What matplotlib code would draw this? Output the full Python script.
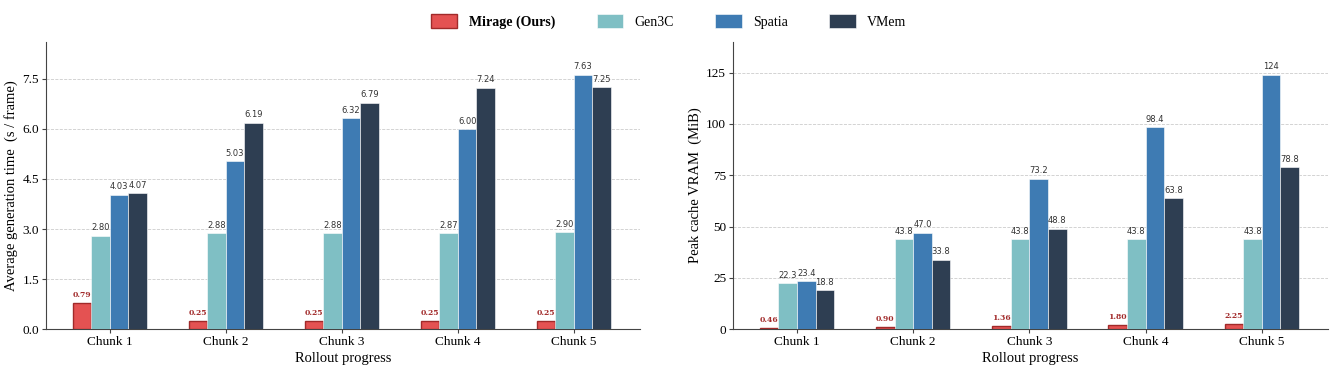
import matplotlib.pyplot as plt
import numpy as np

chunks = ["Chunk 1", "Chunk 2", "Chunk 3", "Chunk 4", "Chunk 5"]
methods = ["Mirage (Ours)", "Gen3C", "Spatia", "VMem"]
colors = ["#e45252", "#7fbfc4", "#3e7bb3", "#2e3e52"]

# average generation time (s / frame)
time_mirage = [0.79, 0.25, 0.25, 0.25, 0.25]
time_gen3c = [2.80, 2.88, 2.88, 2.87, 2.90]
time_spatia = [4.03, 5.03, 6.32, 6.00, 7.63]
time_vmem = [4.07, 6.19, 6.79, 7.24, 7.25]

# peak cache VRAM (MiB)
vram_mirage = [0.46, 0.90, 1.36, 1.80, 2.25]
vram_gen3c = [22.3, 43.8, 43.8, 43.8, 43.8]
vram_spatia = [23.4, 47.0, 73.2, 98.4, 124]
vram_vmem = [18.8, 33.8, 48.8, 63.8, 78.8]

plt.rcParams['font.family'] = ['Liberation Serif', 'DejaVu Serif']

fig = plt.figure(figsize=(13.37, 3.71), dpi=100)
ax1 = fig.add_axes([0.0344, 0.1132, 0.4443, 0.7736])
ax2 = fig.add_axes([0.5483, 0.1132, 0.4450, 0.7736])

w = 0.16
x = np.arange(len(chunks))


def fmt_time(v):
    return "%.2f" % v


def fmt_vram(v):
    if v < 10:
        return "%.2f" % v
    if v >= 100:
        return "%d" % round(v)
    return "%.1f" % v


def draw(ax, series, ylabel, yticks, ylim, fmt, ticklabels):
    handles = []
    for i, vals in enumerate(series):
        pos = x + (i - 1.5) * w
        if i == 0:
            b = ax.bar(pos, vals, w, color=colors[i], edgecolor="#a12a2a", linewidth=1.0, zorder=3, label=methods[i])
        else:
            b = ax.bar(pos, vals, w, color=colors[i], edgecolor="white", linewidth=0.4, zorder=3, label=methods[i])
        handles.append(b)
        for p, v in zip(pos, vals):
            if i == 0:
                ax.annotate(fmt(v), (p, v), xytext=(0, 3), textcoords="offset points", ha="center", va="bottom",
                            fontsize=5.5, color="#a12a2a", fontweight="bold", family="DejaVu Serif")
            else:
                ax.annotate(fmt(v), (p, v), xytext=(0, 2.5), textcoords="offset points", ha="center", va="bottom",
                            fontsize=6, color="#333333", family="DejaVu Sans")
    ax.set_xticks(x)
    ax.set_xticklabels(chunks, fontsize=9.5)
    ax.set_yticks(yticks)
    ax.set_yticklabels(ticklabels, fontsize=9.5)
    ax.set_ylim(*ylim)
    ax.set_xlim(-0.55, 4.57)
    ax.set_xlabel("Rollout progress", fontsize=10.5, labelpad=3)
    ax.set_ylabel(ylabel, fontsize=10.5, labelpad=3)
    ax.yaxis.grid(True, linestyle="--", color="#cccccc", linewidth=0.6, zorder=0)
    ax.spines["top"].set_visible(False)
    ax.spines["right"].set_visible(False)
    ax.spines["left"].set_color("#444444")
    ax.spines["bottom"].set_color("#444444")
    ax.tick_params(axis="both", length=3, color="#444444", pad=2)
    return handles


handles = draw(ax1, [time_mirage, time_gen3c, time_spatia, time_vmem], "Average generation time  (s / frame)",
               [0, 1.5, 3.0, 4.5, 6.0, 7.5], (0, 8.61), fmt_time, ["0.0", "1.5", "3.0", "4.5", "6.0", "7.5"])
draw(ax2, [vram_mirage, vram_gen3c, vram_spatia, vram_vmem], "Peak cache VRAM  (MiB)",
     [0, 25, 50, 75, 100, 125], (0, 140), fmt_vram, ["0", "25", "50", "75", "100", "125"])

leg = fig.legend(handles, methods, loc="upper center", bbox_to_anchor=(0.5, 0.995), ncol=4, frameon=False,
                 fontsize=10, columnspacing=3.0, handlelength=1.9, handleheight=1.1, handletextpad=0.8)
leg.get_texts()[0].set_fontweight("bold")

fig.savefig("out.png", dpi=100)
